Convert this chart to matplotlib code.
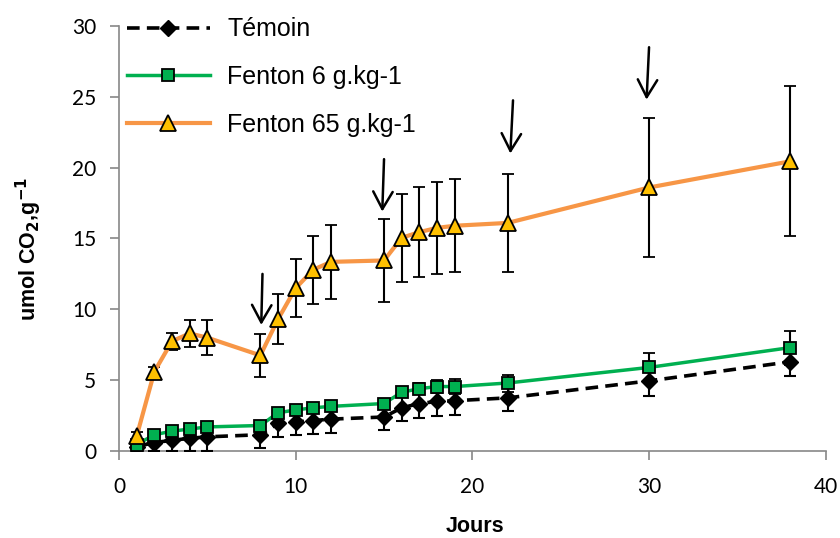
import matplotlib
matplotlib.use("Agg")
import matplotlib.pyplot as plt
from matplotlib.ticker import MultipleLocator

plt.rcParams["font.family"] = ["Liberation Sans", "DejaVu Sans"]

# data
jours = [1, 2, 3, 4, 5, 8, 9, 10, 11, 12, 15, 16, 17, 18, 19, 22, 30, 38]
temoin = [0.3, 0.6, 0.75, 0.9, 1.0, 1.15, 1.95, 2.05, 2.15, 2.25, 2.4, 3.05, 3.35, 3.5, 3.55, 3.75, 4.95, 6.3]
temoin_err = [0.3, 0.6, 0.75, 0.9, 1.0, 0.95, 0.95, 0.95, 0.95, 0.95, 0.95, 0.9, 1.0, 1.0, 1.0, 0.95, 1.05, 1.0]
fenton6 = [0.45, 1.15, 1.4, 1.55, 1.7, 1.8, 2.7, 2.9, 3.05, 3.15, 3.35, 4.15, 4.4, 4.55, 4.55, 4.8, 5.9, 7.3]
fenton6_err = [0.2, 0.2, 0.2, 0.2, 0.2, 0.2, 0.2, 0.2, 0.2, 0.2, 0.3, 0.35, 0.4, 0.45, 0.5, 0.6, 1.05, 1.2]
fenton65 = [1.05, 5.6, 7.75, 8.3, 8.0, 6.75, 9.3, 11.5, 12.8, 13.35, 13.45, 15.05, 15.45, 15.75, 15.9, 16.1, 18.6, 20.45]
fenton65_err = [0.3, 0.35, 0.6, 0.95, 1.25, 1.5, 1.75, 2.05, 2.4, 2.6, 2.95, 3.1, 3.2, 3.25, 3.3, 3.45, 4.9, 5.3]
labels = ["Témoin", "Fenton 6 g.kg-1", "Fenton 65 g.kg-1"]

# hand-drawn arrows (start, tip) marking the Fenton additions
arrow_start = [(8.12, 12.5), (15.0, 20.6), (22.3, 24.75), (30.0, 28.5)]
arrow_tip = [(8.05, 8.9), (14.9, 16.9), (22.15, 21.0), (29.86, 24.8)]

fig = plt.figure(figsize=(8.4, 5.38), dpi=100)
ax = fig.add_axes([0.1417, 0.1617, 0.8413, 0.79])

err_kw = dict(ecolor="black", elinewidth=1.5, capsize=4, capthick=1.5)
c0 = ax.errorbar(jours, temoin, yerr=temoin_err, color="black", linestyle=(0, (3.5, 2)), linewidth=2.6,
                 marker="D", markersize=8, markerfacecolor="black", markeredgecolor="black",
                 label=labels[0], zorder=3, **err_kw)
c1 = ax.errorbar(jours, fenton6, yerr=fenton6_err, color="#00B050", linewidth=2.5,
                 marker="s", markersize=8.5, markerfacecolor="#00B050", markeredgecolor="black",
                 markeredgewidth=1.3, label=labels[1], zorder=4, **err_kw)
c2 = ax.errorbar(jours, fenton65, yerr=fenton65_err, color="#F79646", linewidth=3,
                 marker="^", markersize=11.5, markerfacecolor="#FFC000", markeredgecolor="black",
                 markeredgewidth=1.3, label=labels[2], zorder=5, **err_kw)

for s, t in zip(arrow_start, arrow_tip):
    ax.annotate("", xy=t, xytext=s,
                arrowprops=dict(arrowstyle="->, head_length=1.25, head_width=0.7", color="black",
                                lw=1.8, shrinkA=0, shrinkB=0))

ax.set_xlim(0, 40)
ax.set_ylim(0, 30)
ax.xaxis.set_major_locator(MultipleLocator(10))
ax.yaxis.set_major_locator(MultipleLocator(5))
for side in ["top", "right"]:
    ax.spines[side].set_visible(False)
for side in ["left", "bottom"]:
    ax.spines[side].set_color("#888888")
    ax.spines[side].set_linewidth(1.2)
ax.tick_params(colors="#888888", labelcolor="black", labelsize=15, length=6.5, width=1.2)
ax.tick_params(axis="y", pad=10)
ax.tick_params(axis="x", pad=12)
for lab in ax.get_xticklabels() + ax.get_yticklabels():
    lab.set_family(["Lato", "DejaVu Sans"])

ax.set_xlabel("Jours", fontsize=15.5, fontweight="bold")
ax.set_ylabel("umol CO$_\\mathbf{2}$,g$^\\mathbf{-1}$", fontsize=15.5, fontweight="bold")
ax.xaxis.set_label_coords(0.5035, -0.152)
ax.yaxis.set_label_coords(-0.106, 0.475)

ax.legend(handles=[c0[0], c1[0], c2[0]], labels=labels, loc="upper left",
          bbox_to_anchor=(0.0113, 1.02), frameon=False, fontsize=18, borderpad=0, borderaxespad=0,
          handlelength=3.3, labelspacing=0.95, handletextpad=0.7)

fig.savefig("out.png", dpi=100)
